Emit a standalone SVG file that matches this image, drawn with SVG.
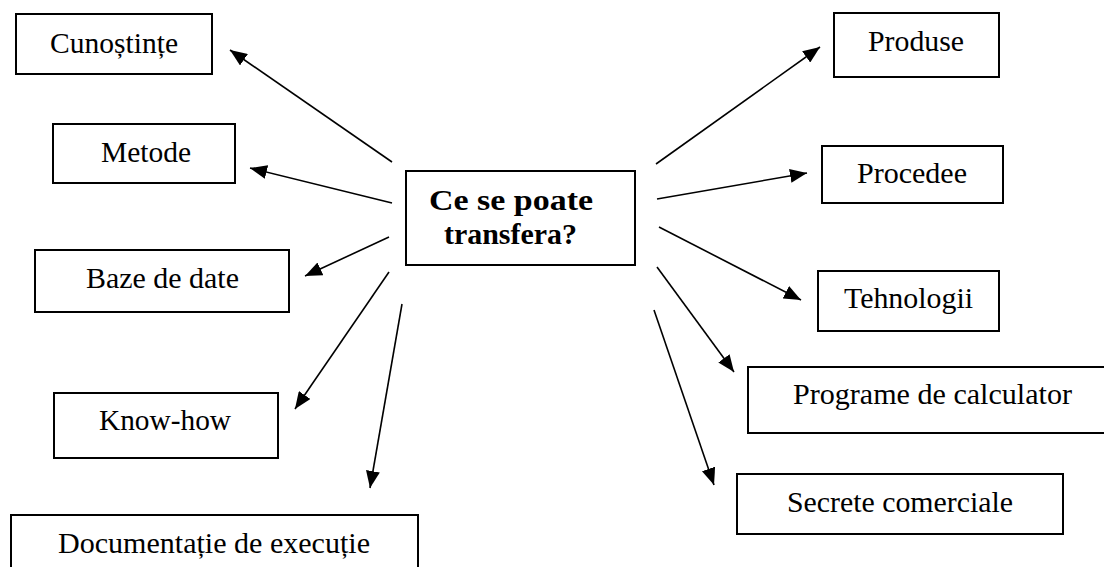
<svg xmlns="http://www.w3.org/2000/svg" width="1104" height="567" viewBox="0 0 1104 567">
  <style>
    .box { fill: #fff; stroke: #000; stroke-width: 2; }
    .lbl { font-family: 'Liberation Serif', serif; font-size: 30px; fill: #000; }
    .bold { font-weight: bold; }
    .edge { stroke: #000; stroke-width: 1.6; fill: none; marker-end: url(#arrow); }
  </style>
  <defs>
    <marker id="arrow" markerUnits="userSpaceOnUse" markerWidth="18" markerHeight="14" refX="17" refY="7" orient="auto">
      <path d="M0,0 L17,7 L0,14 z" fill="#000"/>
    </marker>
  </defs>
  <rect width="1104" height="567" fill="#fff"/>

  <g id="connectors">
    <line class="edge" x1="392" y1="162" x2="230" y2="50"/>
    <line class="edge" x1="392" y1="203" x2="250" y2="168"/>
    <line class="edge" x1="389" y1="237" x2="305" y2="276"/>
    <line class="edge" x1="389" y1="272" x2="295" y2="409"/>
    <line class="edge" x1="402" y1="304" x2="370" y2="488"/>
    <line class="edge" x1="656" y1="164" x2="820" y2="47"/>
    <line class="edge" x1="657" y1="199" x2="807" y2="173"/>
    <line class="edge" x1="659" y1="227" x2="801" y2="300"/>
    <line class="edge" x1="657" y1="267" x2="734" y2="372"/>
    <line class="edge" x1="654" y1="310" x2="714" y2="485"/>
  </g>

  <g id="center">
    <rect class="box" x="406" y="171" width="229" height="94"/>
    <text class="lbl bold" font-family="Liberation Serif" x="429" y="210" textLength="164" lengthAdjust="spacingAndGlyphs">Ce se poate</text>
    <text class="lbl bold" font-family="Liberation Serif" x="444" y="244" textLength="133" lengthAdjust="spacingAndGlyphs">transfera?</text>
  </g>

  <g id="cunostinte">
    <rect class="box" x="16" y="14" width="196" height="60"/>
    <text class="lbl" font-family="Liberation Serif" x="50" y="53" textLength="128" lengthAdjust="spacingAndGlyphs">Cunoștințe</text>
  </g>
  <g id="metode">
    <rect class="box" x="53" y="124" width="182" height="59"/>
    <text class="lbl" font-family="Liberation Serif" x="101" y="162" textLength="90" lengthAdjust="spacingAndGlyphs">Metode</text>
  </g>
  <g id="baze-de-date">
    <rect class="box" x="35" y="250" width="254" height="62"/>
    <text class="lbl" font-family="Liberation Serif" x="86" y="288" textLength="153" lengthAdjust="spacingAndGlyphs">Baze de date</text>
  </g>
  <g id="know-how">
    <rect class="box" x="54" y="393" width="224" height="65"/>
    <text class="lbl" font-family="Liberation Serif" x="99" y="430" textLength="132" lengthAdjust="spacingAndGlyphs">Know-how</text>
  </g>
  <g id="documentatie">
    <rect class="box" x="11" y="515" width="407" height="70"/>
    <text class="lbl" font-family="Liberation Serif" x="58" y="553" textLength="312" lengthAdjust="spacingAndGlyphs">Documentație de execuție</text>
  </g>

  <g id="produse">
    <rect class="box" x="834" y="13" width="165" height="64"/>
    <text class="lbl" font-family="Liberation Serif" x="868" y="51" textLength="96" lengthAdjust="spacingAndGlyphs">Produse</text>
  </g>
  <g id="procedee">
    <rect class="box" x="822" y="146" width="181" height="57"/>
    <text class="lbl" font-family="Liberation Serif" x="857" y="183" textLength="110" lengthAdjust="spacingAndGlyphs">Procedee</text>
  </g>
  <g id="tehnologii">
    <rect class="box" x="818" y="271" width="181" height="60"/>
    <text class="lbl" font-family="Liberation Serif" x="844" y="308" textLength="129" lengthAdjust="spacingAndGlyphs">Tehnologii</text>
  </g>
  <g id="programe">
    <rect class="box" x="748" y="367" width="370" height="66"/>
    <text class="lbl" font-family="Liberation Serif" x="793" y="404" textLength="279" lengthAdjust="spacingAndGlyphs">Programe de calculator</text>
  </g>
  <g id="secrete">
    <rect class="box" x="737" y="474" width="326" height="60"/>
    <text class="lbl" font-family="Liberation Serif" x="787" y="512" textLength="226" lengthAdjust="spacingAndGlyphs">Secrete comerciale</text>
  </g>
</svg>
